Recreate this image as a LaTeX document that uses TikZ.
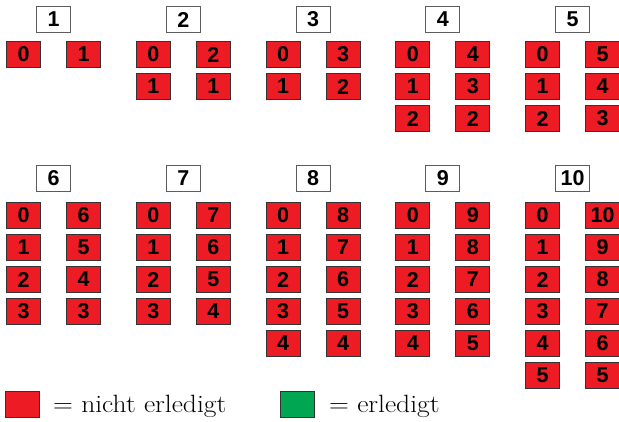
\documentclass[tikz,border=0pt]{standalone}
\usepackage{fontspec}
\usepackage{graphicx}
\newfontfamily\boxfont{Liberation Sans}
\definecolor{todo}{HTML}{ED1C24}
\definecolor{done}{HTML}{00A651}
\definecolor{edge}{HTML}{333333}
\newcommand\legendwide[1]{\scalebox{1.1}[1]{#1}}
\begin{document}
\begin{tikzpicture}[x=1pt,y=-1pt,
  cell/.style={draw=edge, line width=1pt, minimum width=34pt, minimum height=26pt,
    inner sep=0pt, font=\boxfont\bfseries\fontsize{21.5}{21.5}\selectfont},
  task/.style={cell, fill=todo},
  head/.style={cell, fill=white, draw=edge!80},
  legtext/.style={anchor=base west, inner sep=0pt, font=\fontsize{25}{25}\selectfont}]
\useasboundingbox (0,0) rectangle (619,421);
% ten groups: header number, left column counting up, right column counting down
\foreach \n in {1,...,10}{
  \pgfmathtruncatemacro\g{mod(\n-1,5)}
  \pgfmathtruncatemacro\half{(\n-1)/5}
  \pgfmathsetmacro\L{6+129.75*\g}
  \pgfmathsetmacro\hy{\half==0 ? 19.5 : 178}
  \pgfmathsetmacro\ry{\half==0 ? 54.5 : 215.5}
  \pgfmathtruncatemacro\k{floor(\n/2)}
  \node[head] (h\n) at (\L+47.5,\hy) {\n};
  \foreach \r in {0,...,\k}{
    \pgfmathtruncatemacro\rv{\n-\r}
    \node[task] (l\n-\r) at (\L+17.5,\ry+32*\r) {\r};
    \node[task] (r\n-\r) at (\L+77.5,\ry+32*\r) {\rv};
  }
}
% legend
\node[task] (legtodo) at (22,404) {};
\node[legtext] (legtodotext) at (53,412) {\legendwide{= nicht erledigt}};
\node[cell, fill=done] (legdone) at (297.5,404) {};
\node[legtext] (legdonetext) at (329,412) {\legendwide{= erledigt}};
\end{tikzpicture}
\end{document}
